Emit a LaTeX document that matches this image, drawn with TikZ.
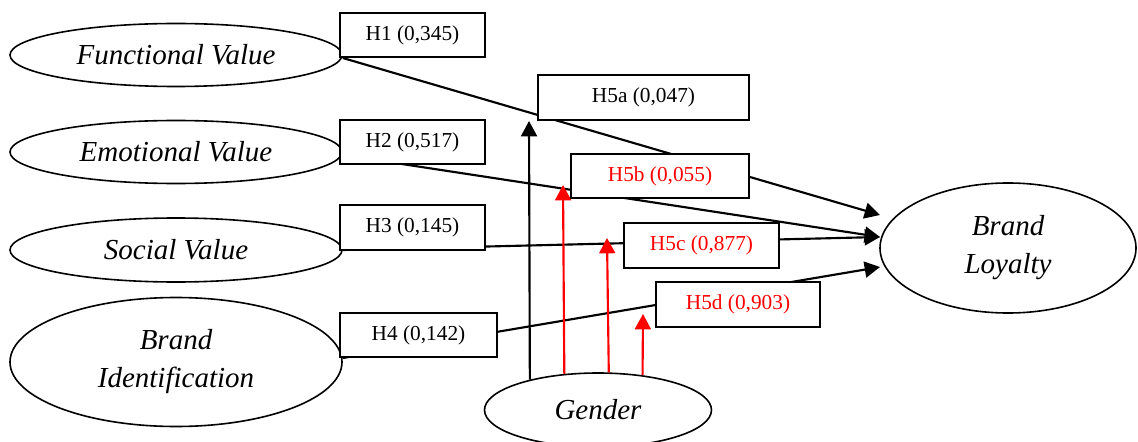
\documentclass[tikz,border=0pt]{standalone}
\usepackage{fontspec}
\setmainfont{Liberation Serif}
\usetikzlibrary{shapes.geometric,arrows.meta}
\begin{document}
\begin{tikzpicture}[x=0.75pt,y=-0.75pt,
  lv/.style={ellipse, draw, line width=1.2pt, inner sep=0pt,
    font=\fontsize{21.75}{28.5}\selectfont\itshape, align=center},
  hyp/.style={rectangle, draw, line width=1.3pt, fill=white, inner sep=0pt,
    font=\fontsize{16}{19}\selectfont},
  redhyp/.style={hyp, text=red},
  conn/.style={line width=1.6pt, -{Triangle[length=11.5pt,width=12pt]}},
  modconn/.style={conn, red}
]
\path[use as bounding box] (0,0) rectangle (1138,442);

% latent variables
\node[lv, minimum width=249pt, minimum height=47.25pt] (fv) at (176,55) {Functional Value};
\node[lv, minimum width=249pt, minimum height=47.25pt] (ev) at (176,152) {Emotional Value};
\node[lv, minimum width=249pt, minimum height=48pt] (sv) at (176,250) {Social Value};
\node[lv, minimum width=249pt, minimum height=96.75pt] (bi) at (176,362) {Brand\\Identification};
\node[lv, minimum width=192pt, minimum height=97.5pt] (bl) at (1008,248) {Brand\\Loyalty};
\node[lv, minimum width=170.25pt, minimum height=55.5pt] (gender) at (598,410) {Gender};

% arrow end points
\coordinate (t1) at (880,215);
\coordinate (t2) at (880,237);
\coordinate (t3) at (880,237);
\coordinate (t4) at (880,267);
\coordinate (m1) at (529,121);
\coordinate (m2) at (563,185);
\coordinate (m3) at (607,238);
\coordinate (m4) at (643,314);

% structural paths
\draw[conn] (fv.east) ++(0,3) -- (t1);
\draw[conn] (ev.east) ++(0,3) -- (t2);
\draw[conn] (sv.east) -- (t3);
\draw[conn] (bi.east) ++(0,-4) -- (t4);

% moderation paths
\draw[conn] (gender.156) -- (m1);
\draw[modconn] (gender.133) -- (m2);
\draw[modconn] (gender.74) -- (m3);
\draw[modconn] (gender.38) -- (m4);

% hypothesis labels
\node[hyp, minimum width=108.75pt, minimum height=33pt] (h1) at (412.5,35) {H1 (0,345)};
\node[hyp, minimum width=108.75pt, minimum height=33pt] (h2) at (412.5,142) {H2 (0,517)};
\node[hyp, minimum width=108.75pt, minimum height=33.75pt] (h3) at (412.5,227.5) {H3 (0,145)};
\node[hyp, minimum width=117.75pt, minimum height=33pt] (h4) at (418.5,335) {H4 (0,142)};
\node[hyp, minimum width=158.25pt, minimum height=33.75pt] (h5a) at (643.5,97.5) {H5a (0,047)};
\node[redhyp, minimum width=133.5pt, minimum height=33pt] (h5b) at (660,176) {H5b (0,055)};
\node[redhyp, minimum width=116.25pt, minimum height=33.75pt] (h5c) at (701.5,245.5) {H5c (0,877)};
\node[redhyp, minimum width=123pt, minimum height=33.75pt] (h5d) at (738,304.5) {H5d (0,903)};
\end{tikzpicture}
\end{document}
